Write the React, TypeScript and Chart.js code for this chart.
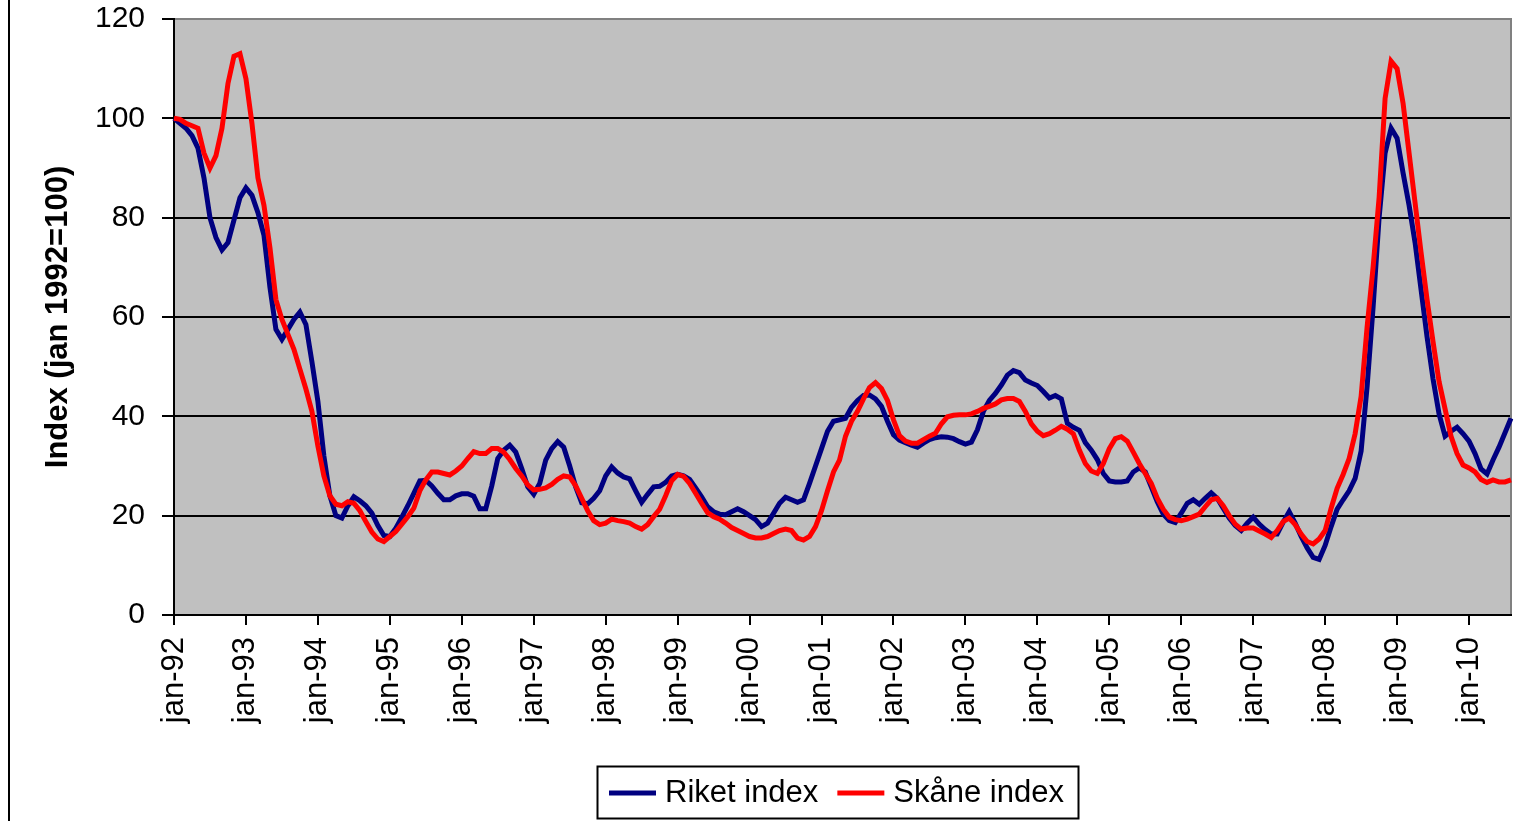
import React, { useEffect, useRef } from 'react';
import { Chart, registerables } from 'chart.js';

Chart.register(...registerables);

const FONT = "'Liberation Sans', Arial, Helvetica, sans-serif";

// Month abbreviations (Swedish) and first year of the series
const MONTHS = ['jan', 'feb', 'mar', 'apr', 'maj', 'jun', 'jul', 'aug', 'sep', 'okt', 'nov', 'dec'];
const START_YEAR = 1992;

// Riket index, monthly jan-92 .. aug-10
const RIKET = [
  100, 99, 98, 96.5, 94, 88, 80, 76, 73.5, 75, 79.5, 84,
  86, 84.5, 81, 76.5, 66, 57.5, 55.5, 57.5, 59.5, 61, 58.5, 51,
  43, 32, 24, 20, 19.5, 22, 23.8, 23, 22, 20.5, 18, 16,
  15.8, 17.5, 19.7, 22, 24.5, 27, 27.1, 26, 24.5, 23.2, 23.2, 24,
  24.4, 24.4, 23.9, 21.4, 21.4, 26, 31.5, 33.2, 34.2, 32.8, 29.5, 25.8,
  24.3, 26.5, 31.2, 33.5, 34.9, 33.8, 30, 25.8, 22.6, 22.4, 23.5, 25,
  28, 29.8, 28.6, 27.8, 27.4, 25, 22.7, 24.3, 25.8, 25.9, 26.7, 28,
  28.3, 28, 27.3, 25.6, 23.8, 21.8, 20.8, 20.3, 20.2, 20.8, 21.4, 20.8,
  20, 19.2, 17.8, 18.5, 20.5, 22.5, 23.7, 23.2, 22.7, 23.2, 26.5, 30,
  33.5, 37, 39, 39.3, 39.6, 41.8, 43.2, 44.2, 44.3, 43.5, 42, 39,
  36.3, 35.2, 34.7, 34.2, 33.8, 34.6, 35.3, 35.7, 35.9, 35.8, 35.5, 34.9,
  34.4, 34.8, 37.3, 41, 43.2, 44.6, 46.3, 48.3, 49.2, 48.8, 47.3, 46.7,
  46.2, 45, 43.7, 44.2, 43.5, 38.6, 37.8, 37.2, 34.7, 33.2, 31.3, 28.5,
  27, 26.8, 26.8, 27, 28.8, 29.6, 28.8, 25.8, 22.8, 20.3, 19, 18.6,
  20.5, 22.5, 23.2, 22.3, 23.5, 24.6, 23.5, 21.5, 19.5, 18, 17, 18.5,
  19.7, 18.3, 17.2, 16.3, 16.3, 18.7, 20.8, 18.5, 15.8, 13.5, 11.6, 11.2,
  14, 17.8, 21.3, 23.2, 25, 27.5, 33, 46, 62, 80, 93, 98,
  96, 89, 82.5, 75, 65.5, 56, 47.5, 40.5, 36, 37, 37.8, 36.5,
  35, 32.5, 29.4, 28.4, 31.2, 33.8, 36.7, 39.6,
];

// Skåne index, monthly jan-92 .. aug-10
const SKANE = [
  100, 99.8, 99, 98.5, 98, 93, 90, 92.5, 98, 107, 112.5, 113,
  108, 99, 88, 82.5, 74, 63.5, 59.5, 56.5, 53.5, 49.5, 45.5, 41,
  34, 28, 24, 22.3, 22, 22.8, 22.5, 21, 18.8, 16.7, 15.3, 14.8,
  15.8, 16.8, 18.3, 19.8, 21.5, 25, 27.2, 28.8, 28.8, 28.5, 28.2, 29,
  30, 31.5, 32.9, 32.5, 32.5, 33.5, 33.5, 32.8, 31.3, 29.5, 28, 26.2,
  25.2, 25.3, 25.6, 26.3, 27.3, 28, 27.8, 26, 23.5, 21, 19, 18.2,
  18.5, 19.3, 19, 18.8, 18.5, 17.8, 17.3, 18.2, 19.8, 21.3, 24, 27,
  28.3, 27.9, 26.5, 24.5, 22.5, 20.6, 19.8, 19.3, 18.5, 17.6, 17, 16.4,
  15.8, 15.5, 15.5, 15.8, 16.4, 17, 17.3, 17, 15.5, 15.1, 15.8, 17.8,
  21, 25, 28.8, 31.2, 36, 39, 41, 43.5, 45.8, 46.8, 45.6, 43.2,
  39.3, 36.1, 35, 34.6, 34.6, 35.3, 36, 36.6, 38.5, 39.9, 40.2, 40.3,
  40.3, 40.5, 41, 41.6, 42, 42.5, 43.3, 43.6, 43.6, 43, 41, 38.5,
  37, 36.1, 36.5, 37.2, 38, 37.4, 36.5, 33.2, 30.5, 29, 28.5, 30.5,
  33.5, 35.5, 35.9, 35, 32.8, 30.5, 28.5, 26.5, 23.5, 21.3, 19.7, 19.2,
  19, 19.3, 19.8, 20.3, 21.8, 23.2, 23.5, 22, 20, 18.3, 17.3, 17.5,
  17.5, 16.9, 16.3, 15.6, 17, 18.8, 19.5, 18.2, 16.3, 14.8, 14.3, 15.3,
  17, 21.5, 25.5, 28.3, 31.5, 36.5, 44, 58, 70, 84, 104, 111.5,
  110, 103, 93, 83, 73, 63.5, 55, 47, 41.5, 36, 32.5, 30.2,
  29.6, 28.8, 27.3, 26.7, 27.2, 26.8, 26.8, 27.2,
];

const LABELS = RIKET.map(
  (_, i) => `${MONTHS[i % 12]}-${String((START_YEAR + Math.floor(i / 12)) % 100).padStart(2, '0')}`
);

const Y_MIN = 0;
const Y_MAX = 120;
const Y_STEP = 20;

const chartPlugin = {
  id: 'excelLook',
  beforeDraw(chart: any) {
    const { ctx, chartArea: a, width, height } = chart;
    ctx.save();
    ctx.fillStyle = '#ffffff';
    ctx.fillRect(0, 0, width, height);
    ctx.fillStyle = '#C0C0C0';
    ctx.fillRect(a.left, a.top, a.right - a.left, a.bottom - a.top);
    ctx.restore();
  },
  beforeDatasetsDraw(chart: any) {
    const { ctx, chartArea: a } = chart;
    ctx.save();
    ctx.strokeStyle = '#808080';
    ctx.lineWidth = 2;
    ctx.beginPath();
    ctx.moveTo(a.left + 1, a.top);
    ctx.lineTo(a.right, a.top);
    ctx.lineTo(a.right, a.bottom - 1);
    ctx.stroke();
    ctx.restore();
  },
  afterDraw(chart: any) {
    const { ctx, height } = chart;
    ctx.save();
    // outer chart border (left edge)
    ctx.strokeStyle = '#000';
    ctx.lineWidth = 2;
    ctx.beginPath();
    ctx.moveTo(9, 0);
    ctx.lineTo(9, height);
    ctx.stroke();

    // legend
    const boxL = 597, boxT = 766, boxW = 481, boxH = 52;
    ctx.fillStyle = '#fff';
    ctx.fillRect(boxL, boxT, boxW, boxH);
    ctx.strokeStyle = '#000';
    ctx.lineWidth = 2;
    ctx.strokeRect(boxL + 0.5, boxT + 0.5, boxW, boxH);
    ctx.font = `31px ${FONT}`;
    ctx.textBaseline = 'middle';
    ctx.textAlign = 'left';
    const cy = boxT + boxH / 2 + 1;
    let x = boxL + 12;
    chart.data.datasets.forEach((ds: any) => {
      ctx.strokeStyle = ds.borderColor;
      ctx.lineWidth = 5;
      ctx.beginPath();
      ctx.moveTo(x, cy);
      ctx.lineTo(x + 47, cy);
      ctx.stroke();
      ctx.fillStyle = '#000';
      ctx.fillText(ds.label, x + 56, cy);
      x += 56 + ctx.measureText(ds.label).width + 19;
    });
    ctx.restore();
  },
};

export default function App() {
  const canvasRef = useRef<HTMLCanvasElement | null>(null);

  useEffect(() => {
    if (!canvasRef.current) return;
    Chart.defaults.font.family = FONT;
    Chart.defaults.color = '#000';
    const chart = new Chart(canvasRef.current, {
      type: 'line',
      data: {
        labels: LABELS,
        datasets: [
          {
            label: 'Riket index',
            data: RIKET,
            borderColor: '#000080',
            backgroundColor: '#000080',
            borderWidth: 5,
            pointRadius: 0,
            tension: 0,
            order: 1,
          },
          {
            label: 'Skåne index',
            data: SKANE,
            borderColor: '#FF0000',
            backgroundColor: '#FF0000',
            borderWidth: 5,
            pointRadius: 0,
            tension: 0,
            order: 0,
          },
        ],
      },
      options: {
        responsive: false,
        animation: false,
        layout: { padding: { top: 19, right: 9, left: 0, bottom: 0 } },
        plugins: {
          legend: { display: false },
          tooltip: { enabled: false },
        },
        scales: {
          x: {
            type: 'category',
            offset: false,
            grid: {
              display: true,
              drawOnChartArea: false,
              drawTicks: true,
              tickLength: 10,
              lineWidth: 2,
              color: (c: any) => (c.index % 12 === 0 ? '#000' : 'rgba(0,0,0,0)'),
            },
            border: { display: true, color: '#000', width: 2 },
            ticks: {
              autoSkip: false,
              minRotation: 90,
              maxRotation: 90,
              padding: 12,
              font: { size: 31 },
              color: '#000',
              callback: function (this: any, value: any, index: number) {
                return index % 12 === 0 ? this.getLabelForValue(value) : '';
              },
            },
            afterFit: (s: any) => {
              s.height = 206;
              s.paddingLeft = 0;
              s.paddingRight = 0;
            },
          },
          y: {
            min: Y_MIN,
            max: Y_MAX,
            ticks: { stepSize: Y_STEP, padding: 17, font: { size: 30 }, color: '#000' },
            grid: { color: '#000', lineWidth: 2, tickLength: 12, drawTicks: true },
            border: { display: true, color: '#000', width: 2 },
            title: {
              display: true,
              text: 'Index (jan 1992=100)',
              font: { size: 31, weight: 'bold' },
              color: '#000',
              padding: { top: 40, bottom: 0 },
            },
            afterFit: (s: any) => {
              s.width = 174;
              s.paddingTop = 0;
              s.paddingBottom = 0;
            },
          },
        },
      },
      plugins: [chartPlugin],
    });
    return () => chart.destroy();
  }, []);

  return (
    <canvas
      ref={canvasRef}
      width={1520}
      height={821}
      style={{ position: 'absolute', left: 0, top: 0, width: 1520, height: 821 }}
    />
  );
}
